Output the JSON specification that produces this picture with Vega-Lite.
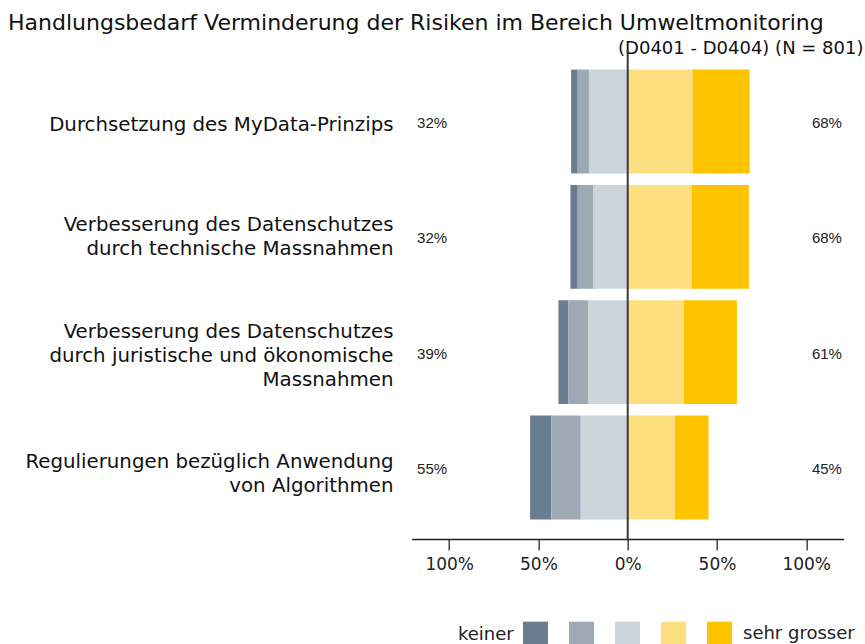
{
  "$schema": "https://vega.github.io/schema/vega-lite/v6.json",
  "autosize": {"type": "none"},
  "padding": {"left": 411.7, "top": 50, "right": 21.3, "bottom": 105},
  "width": 432,
  "height": 489,
  "background": "#ffffff",
  "config": {"view": {"stroke": null}},
  "title": {
    "text": "Handlungsbedarf Verminderung der Risiken im Bereich Umweltmonitoring",
    "anchor": "start",
    "frame": "group",
    "dx": -403.7,
    "offset": 5,
    "font": "DejaVu Sans",
    "fontSize": 22,
    "fontWeight": "normal",
    "color": "#111111"
  },
  "datasets": {
    "resp": [
      {"category": "Durchsetzung des MyData-Prinzips", "level": 1, "pct": 3.7},
      {"category": "Durchsetzung des MyData-Prinzips", "level": 2, "pct": 6.3},
      {"category": "Durchsetzung des MyData-Prinzips", "level": 3, "pct": 21.7},
      {"category": "Durchsetzung des MyData-Prinzips", "level": 4, "pct": 36.3},
      {"category": "Durchsetzung des MyData-Prinzips", "level": 5, "pct": 32.0},
      {"category": "Verbesserung des Datenschutzes durch technische Massnahmen", "level": 1, "pct": 4.1},
      {"category": "Verbesserung des Datenschutzes durch technische Massnahmen", "level": 2, "pct": 8.6},
      {"category": "Verbesserung des Datenschutzes durch technische Massnahmen", "level": 3, "pct": 19.4},
      {"category": "Verbesserung des Datenschutzes durch technische Massnahmen", "level": 4, "pct": 35.8},
      {"category": "Verbesserung des Datenschutzes durch technische Massnahmen", "level": 5, "pct": 32.1},
      {"category": "Verbesserung des Datenschutzes durch juristische und ökonomische Massnahmen", "level": 1, "pct": 5.6},
      {"category": "Verbesserung des Datenschutzes durch juristische und ökonomische Massnahmen", "level": 2, "pct": 11.2},
      {"category": "Verbesserung des Datenschutzes durch juristische und ökonomische Massnahmen", "level": 3, "pct": 22.0},
      {"category": "Verbesserung des Datenschutzes durch juristische und ökonomische Massnahmen", "level": 4, "pct": 31.5},
      {"category": "Verbesserung des Datenschutzes durch juristische und ökonomische Massnahmen", "level": 5, "pct": 29.7},
      {"category": "Regulierungen bezüglich Anwendung von Algorithmen", "level": 1, "pct": 11.9},
      {"category": "Regulierungen bezüglich Anwendung von Algorithmen", "level": 2, "pct": 16.5},
      {"category": "Regulierungen bezüglich Anwendung von Algorithmen", "level": 3, "pct": 26.3},
      {"category": "Regulierungen bezüglich Anwendung von Algorithmen", "level": 4, "pct": 26.4},
      {"category": "Regulierungen bezüglich Anwendung von Algorithmen", "level": 5, "pct": 18.9}
    ],
    "totals": [
      {"category": "Durchsetzung des MyData-Prinzips", "neg": 32, "pos": 68},
      {"category": "Verbesserung des Datenschutzes durch technische Massnahmen", "neg": 32, "pos": 68},
      {"category": "Verbesserung des Datenschutzes durch juristische und ökonomische Massnahmen", "neg": 39, "pos": 61},
      {"category": "Regulierungen bezüglich Anwendung von Algorithmen", "neg": 55, "pos": 45}
    ]
  },
  "resolve": {"axis": {"x": "independent"}},
  "layer": [
    {
      "data": {"name": "resp"},
      "transform": [
        {"calculate": "datum.level <= 3 ? -datum.pct : datum.pct", "as": "signed"},
        {"calculate": "abs(datum.level - 3.5)", "as": "ord"}
      ],
      "mark": {"type": "bar"},
      "encoding": {
        "y": {
          "field": "category",
          "type": "nominal",
          "sort": null,
          "scale": {"paddingInner": 0.1, "paddingOuter": 0.17},
          "axis": {
            "title": null,
            "ticks": false,
            "domain": false,
            "labelFont": "DejaVu Sans",
            "labelFontSize": 19.8,
            "labelColor": "#111111",
            "labelPadding": 18.7,
            "labelLimit": 600,
            "labelLineHeight": 24,
            "labelOffset": {
              "condition": [
                {"test": "datum.value == 'Verbesserung des Datenschutzes durch technische Massnahmen'", "value": -12},
                {"test": "datum.value == 'Verbesserung des Datenschutzes durch juristische und ökonomische Massnahmen'", "value": -20},
                {"test": "datum.value == 'Regulierungen bezüglich Anwendung von Algorithmen'", "value": -5}
              ],
              "value": 3
            },
            "labelExpr": "datum.label == 'Verbesserung des Datenschutzes durch technische Massnahmen' ? ['Verbesserung des Datenschutzes', 'durch technische Massnahmen'] : datum.label == 'Verbesserung des Datenschutzes durch juristische und ökonomische Massnahmen' ? ['Verbesserung des Datenschutzes', 'durch juristische und ökonomische', 'Massnahmen'] : datum.label == 'Regulierungen bezüglich Anwendung von Algorithmen' ? ['Regulierungen bezüglich Anwendung', 'von Algorithmen'] : datum.label"
          }
        },
        "x": {
          "field": "signed",
          "type": "quantitative",
          "stack": "zero",
          "scale": {"domain": [-121, 121], "nice": false, "zero": false},
          "axis": {
            "title": null,
            "grid": false,
            "values": [-100, -50, 0, 50, 100],
            "labelExpr": "abs(datum.value) + '%'",
            "labelFont": "DejaVu Sans",
            "labelFontSize": 17,
            "labelColor": "#222222",
            "labelPadding": 6,
            "domainColor": "#222222",
            "domainWidth": 1.5,
            "tickColor": "#444444",
            "tickSize": 11,
            "tickWidth": 1.5
          }
        },
        "order": {"field": "ord", "type": "quantitative"},
        "color": {
          "field": "level",
          "type": "ordinal",
          "scale": {
            "domain": [1, 2, 3, 4, 5],
            "range": ["#6A7D90", "#9DAAB6", "#CCD4DC", "#FEDF7F", "#FEC400"]
          },
          "legend": {
            "orient": "none",
            "legendX": 46.3,
            "legendY": 571.7,
            "direction": "horizontal",
            "title": "keiner",
            "titleOrient": "left",
            "titleFont": "DejaVu Sans",
            "titleFontSize": 18,
            "titleFontWeight": "normal",
            "titleColor": "#222222",
            "titlePadding": 9,
            "symbolType": "square",
            "symbolSize": 625,
            "symbolStrokeWidth": 0,
            "symbolOpacity": 1,
            "labelExpr": "datum.value == 5 ? 'sehr grosser' : ''",
            "labelFont": "DejaVu Sans",
            "labelFontSize": 18,
            "labelColor": "#222222",
            "labelOffset": 11,
            "columnPadding": 10,
            "padding": 0
          }
        }
      }
    },
    {
      "data": {"name": "totals"},
      "transform": [{"calculate": "datum.neg + '%'", "as": "negLabel"}],
      "mark": {"type": "text", "align": "left", "baseline": "middle", "dy": 1.5, "font": "Liberation Sans", "fontSize": 15, "color": "#222222"},
      "encoding": {
        "y": {"field": "category", "type": "nominal", "sort": null},
        "x": {"datum": -118, "type": "quantitative", "axis": null},
        "text": {"field": "negLabel", "type": "nominal"}
      }
    },
    {
      "data": {"name": "totals"},
      "transform": [{"calculate": "datum.pos + '%'", "as": "posLabel"}],
      "mark": {"type": "text", "align": "right", "baseline": "middle", "dy": 1.5, "font": "Liberation Sans", "fontSize": 15, "color": "#222222"},
      "encoding": {
        "y": {"field": "category", "type": "nominal", "sort": null},
        "x": {"datum": 120, "type": "quantitative", "axis": null},
        "text": {"field": "posLabel", "type": "nominal"}
      }
    },
    {
      "data": {"values": [{}]},
      "mark": {"type": "rule", "color": "#3a3a3a", "strokeWidth": 2},
      "encoding": {
        "x": {
          "datum": 0,
          "type": "quantitative",
          "axis": {
            "orient": "top",
            "title": "(D0401 - D0404) (N = 801)",
            "titleFont": "DejaVu Sans",
            "titleFontSize": 18,
            "titleFontWeight": "normal",
            "titleColor": "#111111",
            "titleAlign": "right",
            "titleBaseline": "alphabetic",
            "titleX": 451.3,
            "titleY": 3.5,
            "labels": false,
            "ticks": false,
            "domain": false,
            "grid": false
          }
        }
      }
    }
  ]
}
